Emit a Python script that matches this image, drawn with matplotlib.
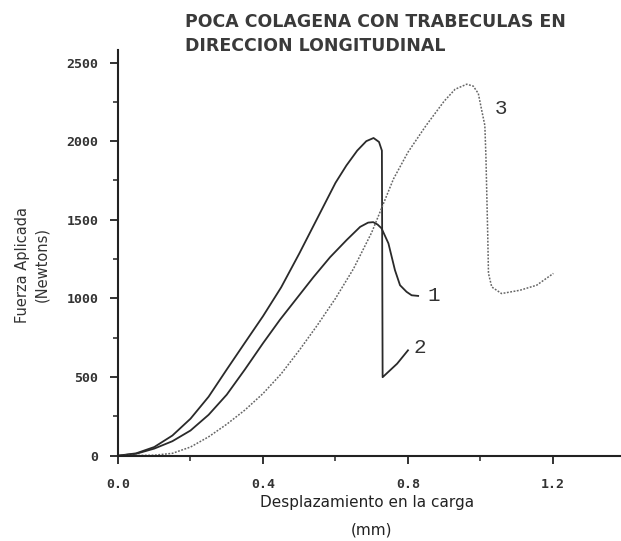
import matplotlib
matplotlib.use("Agg")
import matplotlib.pyplot as plt
from matplotlib.ticker import MultipleLocator

# Curve 1: peaks ~1480 N, then falls gradually to ~1000 N
desp_1 = [0.0, 0.05, 0.10, 0.15, 0.20, 0.25, 0.30, 0.35, 0.40, 0.447, 0.493, 0.539,
          0.585, 0.631, 0.668, 0.690, 0.704, 0.716, 0.727, 0.746, 0.764, 0.778,
          0.796, 0.81, 0.828]
fuerza_1 = [0, 12, 45, 92, 160, 260, 388, 548, 715, 865, 1000, 1135,
            1262, 1372, 1455, 1482, 1485, 1470, 1446, 1350, 1180, 1084,
            1042, 1020, 1016]

# Curve 2: peaks ~2020 N, sudden break down to ~500 N
desp_2 = [0.0, 0.05, 0.10, 0.15, 0.20, 0.25, 0.30, 0.35, 0.40, 0.45, 0.50, 0.55,
          0.60, 0.63, 0.66, 0.685, 0.705, 0.72, 0.728, 0.730, 0.77, 0.80]
fuerza_2 = [0, 15, 55, 128, 235, 375, 548, 718, 887, 1070, 1285, 1510,
            1735, 1845, 1940, 2000, 2020, 1995, 1940, 499, 585, 670]

# Curve 3 (dotted): peaks ~2360 N, drops to ~1030 N and recovers slightly
desp_3 = [0.0, 0.10, 0.15, 0.20, 0.25, 0.30, 0.35, 0.40, 0.45, 0.50, 0.55, 0.60,
          0.65, 0.70, 0.73, 0.76, 0.80, 0.85, 0.90, 0.93, 0.962, 0.980, 0.994,
          1.003, 1.012, 1.015, 1.017, 1.020, 1.022, 1.031, 1.058, 1.109, 1.155, 1.201]
fuerza_3 = [0, 3, 15, 55, 120, 200, 290, 395, 520, 670, 830, 1000,
            1190, 1420, 1590, 1760, 1930, 2100, 2255, 2330, 2362, 2350, 2303,
            2200, 2100, 1900, 1700, 1400, 1159, 1073, 1031, 1052, 1084, 1159]

x_ticks = [0.0, 0.4, 0.8, 1.2]
y_ticks = [0, 500, 1000, 1500, 2000, 2500]

fig = plt.figure(figsize=(6.21, 5.41), dpi=100)
ax = fig.add_axes([0.190, 0.1577, 0.810, 0.750])

ax.plot(desp_1, fuerza_1, color="#2a2a2a", lw=1.3)
ax.plot(desp_2, fuerza_2, color="#2a2a2a", lw=1.3)
ax.plot(desp_3, fuerza_3, color="#666666", lw=1.1, linestyle=(0, (1.2, 1.0)))

ax.set_xlim(0, 1.3876)
ax.set_ylim(0, 2580)

for side in ("top", "right"):
    ax.spines[side].set_visible(False)
for side in ("left", "bottom"):
    ax.spines[side].set_linewidth(1.5)
    ax.spines[side].set_color("#222222")

tick_font = {"family": "DejaVu Sans Mono", "weight": "bold", "size": 9.5}
ax.set_xticks(x_ticks)
ax.set_xticklabels(["%.1f" % v for v in x_ticks], fontdict=tick_font, color="#333333")
ax.set_yticks(y_ticks)
ax.set_yticklabels([str(v) for v in y_ticks], fontdict=tick_font, color="#333333")
ax.xaxis.set_minor_locator(MultipleLocator(0.2))
ax.yaxis.set_minor_locator(MultipleLocator(250))
ax.tick_params(which="major", direction="out", length=6, width=1.3, colors="#222222")
ax.tick_params(which="minor", direction="out", length=3.5, width=1.1, colors="#222222")
ax.tick_params(axis="x", which="major", pad=10, labelcolor="#333333")
ax.tick_params(axis="y", which="major", pad=8, labelcolor="#333333")

for txt, xp, yp in [("1", 0.855, 1020), ("2", 0.815, 690), ("3", 1.040, 2210)]:
    ax.text(xp, yp, txt, fontfamily="Liberation Mono", fontsize=15,
            va="center", ha="left", color="#333333")

fig.text(185 / 621, 1 - 13 / 541, "POCA COLAGENA CON TRABECULAS EN\nDIRECCION LONGITUDINAL",
         ha="left", va="top", fontfamily="DejaVu Sans", fontweight="bold",
         fontsize=12.5, linespacing=1.4, color="#3a3a3a")

fig.text(367 / 621, 1 - 503 / 541, "Desplazamiento en la carga", ha="center", va="center",
         fontfamily="DejaVu Sans", fontsize=11, color="#222222")
fig.text(372 / 621, 1 - 530 / 541, "(mm)", ha="center", va="center",
         fontfamily="DejaVu Sans", fontsize=11, color="#222222")

fig.text(32 / 621, 1 - 265 / 541, "Fuerza Aplicada\n(Newtons)", ha="center", va="center",
         rotation=90, fontfamily="DejaVu Sans", fontsize=10.5, linespacing=1.3, color="#333333")

fig.savefig("out.png", dpi=100, facecolor="white")
